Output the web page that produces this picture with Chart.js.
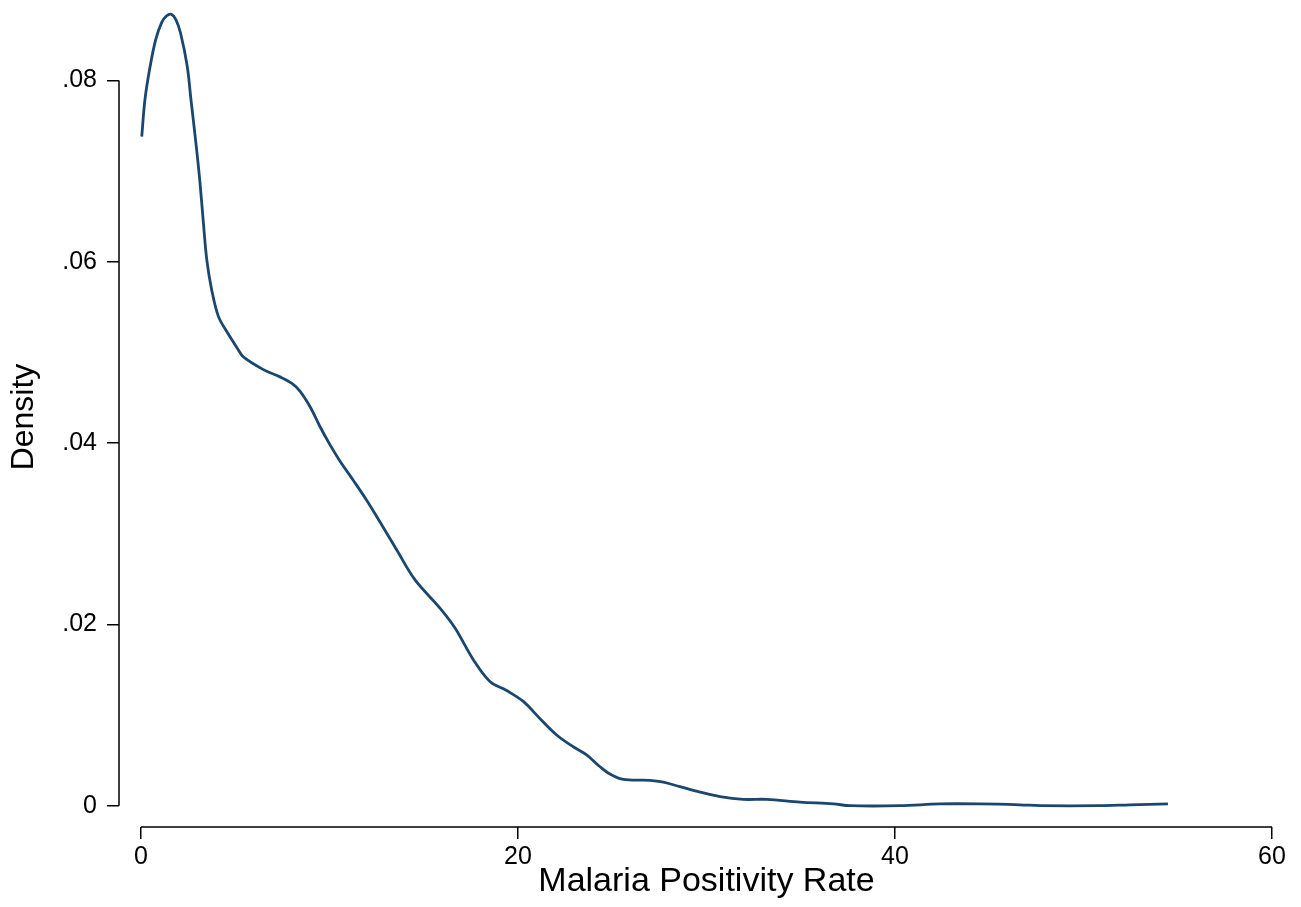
<!DOCTYPE html>
<html lang="en">
<head>
  <meta charset="UTF-8" />
  <title>Malaria Positivity Rate density</title>
  <script src="https://cdn.jsdelivr.net/npm/chart.js@4.4.1/dist/chart.umd.min.js"></script>
  <style>
    body { margin: 0; background: #fff; }
    #wrap { width: 1301px; height: 907px; }
  </style>
</head>
<body>
  <div id="wrap"><canvas id="densityChart" width="1301" height="907"></canvas></div>

<script>
  // kernel density
  const rateX = [0.04, 0.21, 0.48, 0.78, 1.10, 1.35, 1.60, 1.85, 2.10, 2.45, 2.65, 2.95, 3.13, 3.31, 3.49, 3.75, 4.10, 4.55,
    5.16, 5.43, 6.49, 7.37, 7.99, 8.44, 8.97, 9.50, 10.03, 10.56, 11.26, 11.97, 12.68, 13.57, 14.54, 15.86,
    16.66, 17.63, 18.51, 19.40, 20.28, 21.17, 22.05, 22.93, 23.64, 24.35, 24.88, 25.59, 27.00, 27.71, 28.59,
    29.66, 30.72, 31.95, 33.19, 34.96, 36.73, 37.61, 40.27, 42.39, 44.51, 46.63, 47.69, 50.88, 52.47, 54.48];
  const density = [0.0738, 0.0779, 0.0815, 0.0845, 0.0864, 0.0871, 0.0873, 0.0867, 0.0852, 0.0816, 0.0779, 0.0724, 0.0687, 0.0643, 0.0602, 0.0569, 0.0540, 0.0523,
    0.0503, 0.0495, 0.0481, 0.0473, 0.0466, 0.0457, 0.0440, 0.0418, 0.0398, 0.0380, 0.0359, 0.0337, 0.0313, 0.0282, 0.0249, 0.0218,
    0.0196, 0.0161, 0.0137, 0.0127, 0.0115, 0.0096, 0.0078, 0.0065, 0.0056, 0.0043, 0.0035, 0.0029, 0.0028, 0.0026, 0.0021,
    0.0015, 0.0010, 0.0007, 0.0007, 0.0004, 0.0002, 0.0000, 0.0000, 0.0002, 0.0002, 0.0001, 0.0000, 0.0000, 0.0001, 0.0002];

  const xTicks = [0, 20, 40, 60];
  const yTicks = [0, 0.02, 0.04, 0.06, 0.08];

  const fontFamily = "'Liberation Sans', Arial, Helvetica, sans-serif";

  // Stata style axis lines: only span the labelled range
  const axisLines = {
    id: 'axisLines',
    afterDraw(chart) {
      const { ctx, chartArea, scales } = chart;
      ctx.save();
      ctx.strokeStyle = '#000';
      ctx.lineWidth = 1.5;
      ctx.beginPath();
      ctx.moveTo(chartArea.left, scales.y.getPixelForValue(yTicks[0]));
      ctx.lineTo(chartArea.left, scales.y.getPixelForValue(yTicks[yTicks.length - 1]));
      ctx.moveTo(scales.x.getPixelForValue(xTicks[0]), chartArea.bottom);
      ctx.lineTo(scales.x.getPixelForValue(xTicks[xTicks.length - 1]), chartArea.bottom);
      ctx.stroke();
      ctx.restore();
    }
  };

  function fmtY(v) {
    if (v === 0) return '0';
    return v.toFixed(2).replace(/^0/, '');
  }

  function noPad(s) {
    s.paddingTop = 0;
    s.paddingBottom = 0;
    s.paddingLeft = 0;
    s.paddingRight = 0;
  }

  new Chart(document.getElementById('densityChart'), {
    type: 'line',
    data: {
      datasets: [{
        data: rateX.map((x, i) => ({ x: x, y: density[i] })),
        borderColor: '#1a476f',
        borderWidth: 2.8,
        pointRadius: 0,
        fill: false,
        tension: 0.35
      }]
    },
    options: {
      responsive: false,
      animation: false,
      devicePixelRatio: 1,
      layout: { padding: { top: 7, right: 7, left: 0, bottom: 0 } },
      plugins: { legend: { display: false }, tooltip: { enabled: false } },
      scales: {
        x: {
          type: 'linear',
          min: -1.167,
          max: 61.167,
          afterBuildTicks: s => { s.ticks = xTicks.map(v => ({ value: v })); },
          afterFit: s => { s.height = 80; noPad(s); },
          border: { display: false },
          grid: { drawOnChartArea: false, drawTicks: true, tickLength: 12, color: '#000', lineWidth: 1.5 },
          ticks: { color: '#000', padding: 3, font: { family: fontFamily, size: 25 }, maxRotation: 0 },
          title: { display: true, text: 'Malaria Positivity Rate', color: '#000',
                   font: { family: fontFamily, size: 34 }, padding: { top: 0, bottom: 5 } }
        },
        y: {
          type: 'linear',
          min: -0.00235,
          max: 0.0881,
          afterBuildTicks: s => { s.ticks = yTicks.map(v => ({ value: v })); },
          afterFit: s => { s.width = 119; noPad(s); },
          border: { display: false },
          grid: { drawOnChartArea: false, drawTicks: true, tickLength: 12, color: '#000', lineWidth: 1.5 },
          ticks: { color: '#000', padding: 10, font: { family: fontFamily, size: 25 }, callback: v => fmtY(v) },
          title: { display: true, text: 'Density', color: '#000',
                   font: { family: fontFamily, size: 32 }, padding: { top: 5, bottom: 0 } }
        }
      }
    },
    plugins: [axisLines]
  });
</script>
</body>
</html>
